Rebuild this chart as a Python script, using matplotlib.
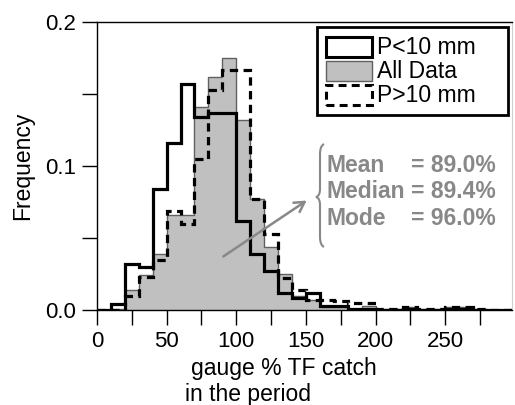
import numpy as np
import matplotlib
matplotlib.use("Agg")
import matplotlib.pyplot as plt
from matplotlib.patches import Rectangle, FancyArrowPatch, PathPatch
from matplotlib.path import Path

plt.rcParams['font.family'] = ['Liberation Sans', 'DejaVu Sans']

bin_edges = np.arange(0, 310, 10)

p_lt10 = [0.000, 0.004, 0.032, 0.030, 0.084, 0.116, 0.157, 0.134, 0.137, 0.137,
          0.062, 0.039, 0.027, 0.012, 0.008, 0.012, 0.003, 0.003, 0.001, 0.001,
          0.000, 0.000, 0.001, 0.000, 0.000, 0.001, 0.001, 0.000, 0.000, 0.000]
all_data = [0.000, 0.001, 0.014, 0.024, 0.039, 0.066, 0.066, 0.141, 0.162, 0.175,
            0.132, 0.077, 0.044, 0.025, 0.010, 0.007, 0.002, 0.002, 0.001, 0.003,
            0.001, 0.001, 0.002, 0.001, 0.001, 0.002, 0.002, 0.001, 0.000, 0.000]
p_gt10 = [0.000, 0.000, 0.010, 0.023, 0.035, 0.069, 0.060, 0.105, 0.153, 0.167,
          0.167, 0.077, 0.053, 0.022, 0.014, 0.007, 0.007, 0.006, 0.005, 0.005,
          0.001, 0.001, 0.002, 0.001, 0.001, 0.002, 0.002, 0.001, 0.000, 0.000]

legend_labels = ["P<10 mm", "All Data", "P>10 mm"]
stat_names = ["Mean", "Median", "Mode"]
stat_values = ["= 89.0%", "= 89.4%", "= 96.0%"]

W, H = 515, 405
FS = 16.5
DASH = (0, (2.6, 1.7))
fig = plt.figure(figsize=(W/100, H/100), dpi=100)
ax_l, ax_r, ax_t, ax_b = 97, 512, 22, 310
ax = fig.add_axes([ax_l/W, 1-ax_b/H, (ax_r-ax_l)/W, (ax_b-ax_t)/H])

ax.stairs(all_data, bin_edges, fill=True, facecolor='#c0c0c0', edgecolor='none', zorder=1)
ax.stairs(all_data, bin_edges, fill=False, color='#606060', lw=1.0, zorder=2)
ax.stairs(p_lt10, bin_edges, fill=False, color='black', lw=2.3, zorder=3)
ax.stairs(p_gt10, bin_edges, fill=False, color='black', lw=2.3, ls=DASH, zorder=4)

ax.set_xlim(0, 298)
ax.set_ylim(0, 0.2)

xt = np.arange(0, 300, 25)
ax.set_xticks(xt)
ax.set_xticklabels([str(int(v)) if v % 50 == 0 else "" for v in xt])
yt = [0.0, 0.05, 0.1, 0.15, 0.2]
ax.set_yticks(yt)
ax.set_yticklabels(["0.0", "", "0.1", "", "0.2"])
ax.tick_params(direction='out', length=11, width=1, labelsize=16, pad=4)
for s in ['left', 'bottom', 'top']:
    ax.spines[s].set_linewidth(1.0)
ax.spines['right'].set_color('#d0d0d0')

ax.set_ylabel("Frequency", fontsize=FS, labelpad=8)


def fx(px):
    return px / W


def fy(py):
    return 1 - py / H


fig.text(fx(284), fy(368), "gauge % TF catch", fontsize=FS, ha='center', va='center')
fig.text(fx(248), fy(394), "in the period", fontsize=FS, ha='center', va='center')

# legend (hand-built to match)
lx0, ly0, lx1, ly1 = 317, 27, 508, 115
fig.patches.append(Rectangle((fx(lx0), fy(ly1)), (lx1-lx0)/W, (ly1-ly0)/H,
                             transform=fig.transFigure, fill=True, facecolor='white',
                             edgecolor='black', lw=2.0, zorder=10))
rows = [47, 71, 95]
hx0, hx1, hh = 326, 372, 19
styles = [dict(facecolor='white', edgecolor='black', lw=2.2),
          dict(facecolor='#c0c0c0', edgecolor='#606060', lw=1.0),
          dict(facecolor='none', edgecolor='black', lw=2.2, ls=DASH)]
for r, st in zip(rows, styles):
    fig.patches.append(Rectangle((fx(hx0), fy(r + hh/2)), (hx1-hx0)/W, hh/H,
                                 transform=fig.transFigure, zorder=11, **st))
for r, lab in zip(rows, legend_labels):
    fig.text(fx(377), fy(r), lab, fontsize=FS, ha='left', va='center', zorder=12)

# stats annotation
gray = '#888888'
srow = [166, 192, 218]
for r, n, v in zip(srow, stat_names, stat_values):
    fig.text(fx(327), fy(r), n, fontsize=FS, fontweight='bold', color=gray, ha='left', va='center')
    fig.text(fx(411), fy(r), v, fontsize=FS, fontweight='bold', color=gray, ha='left', va='center')

# brace
bx, btop, bbot, bmid = 321, 144, 247, 197
verts = [(fx(bx+3), fy(btop)), (fx(bx-1), fy(btop+2)), (fx(bx-1), fy(btop+10)),
         (fx(bx-1), fy(bmid-8)), (fx(bx-1), fy(bmid-1)), (fx(bx-5), fy(bmid)),
         (fx(bx-1), fy(bmid+1)), (fx(bx-1), fy(bmid+8)),
         (fx(bx-1), fy(bbot-10)), (fx(bx-1), fy(bbot-2)), (fx(bx+3), fy(bbot))]
codes = [Path.MOVETO, Path.CURVE3, Path.CURVE3, Path.LINETO, Path.CURVE3, Path.CURVE3,
         Path.CURVE3, Path.CURVE3, Path.LINETO, Path.CURVE3, Path.CURVE3]
fig.patches.append(PathPatch(Path(verts, codes), transform=fig.transFigure,
                             fill=False, edgecolor=gray, lw=1.5))
arr = FancyArrowPatch((fx(221), fy(258)), (fx(309), fy(199)), transform=fig.transFigure,
                      arrowstyle='->,head_length=7,head_width=4', color=gray, lw=1.8,
                      mutation_scale=1)
fig.patches.append(arr)

fig.savefig("out.png", dpi=100)
